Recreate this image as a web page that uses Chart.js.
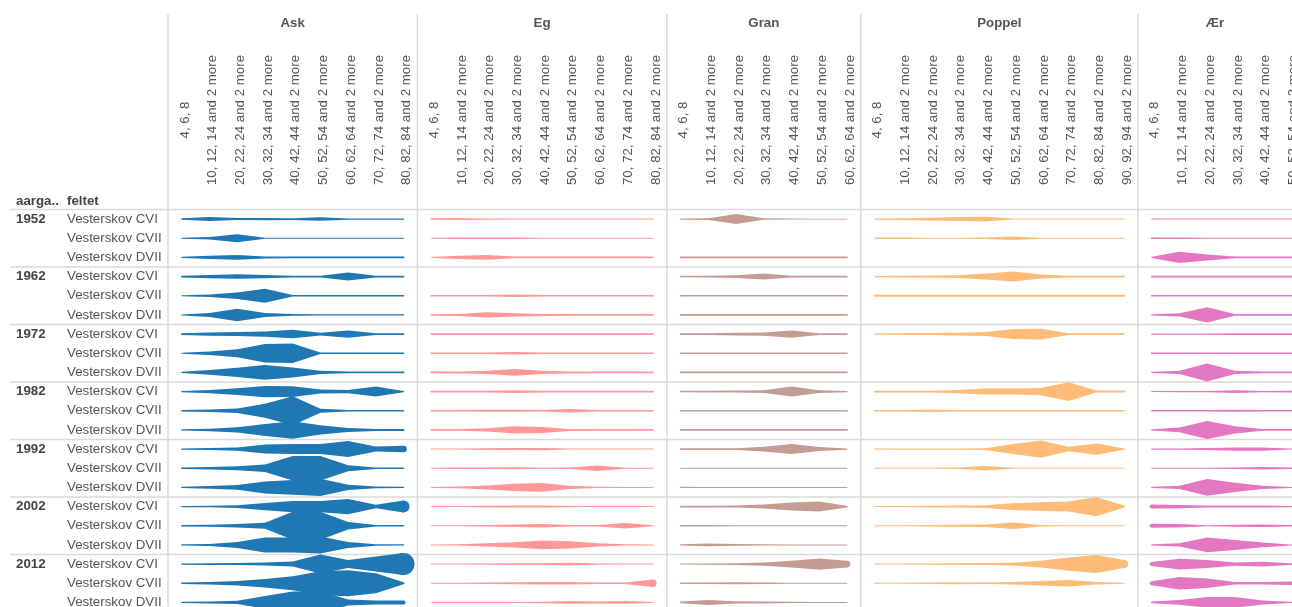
<!DOCTYPE html>
<html>
<head>
<meta charset="utf-8">
<script src="https://cdn.jsdelivr.net/npm/chart.js"></script>
<style>
  html, body { margin: 0; padding: 0; overflow: hidden; background: #fff; }
  canvas { display: block; }
</style>
</head>
<body>
<canvas id="violin" width="1292" height="612"></canvas>
<script>
/* --------------- Data --------------------- */
const years = ["1952", "1962", "1972", "1982", "1992", "2002", "2012"];
const felter = ["Vesterskov CVI", "Vesterskov CVII", "Vesterskov DVII"];
const arter = ["Ask", "Eg", "Gran", "Poppel", "Ær"];
const farver = ["#1f77b4", "#ff9896", "#c49c94", "#ffbb78", "#e377c2"];

const askKlasser = ["4, 6, 8", "10, 12, 14 and 2 more", "20, 22, 24 and 2 more", "30, 32, 34 and 2 more", "40, 42, 44 and 2 more", "50, 52, 54 and 2 more", "60, 62, 64 and 2 more", "70, 72, 74 and 2 more", "80, 82, 84 and 2 more"];
const egKlasser = ["4, 6, 8", "10, 12, 14 and 2 more", "20, 22, 24 and 2 more", "30, 32, 34 and 2 more", "40, 42, 44 and 2 more", "50, 52, 54 and 2 more", "60, 62, 64 and 2 more", "70, 72, 74 and 2 more", "80, 82, 84 and 2 more"];
const granKlasser = ["4, 6, 8", "10, 12, 14 and 2 more", "20, 22, 24 and 2 more", "30, 32, 34 and 2 more", "40, 42, 44 and 2 more", "50, 52, 54 and 2 more", "60, 62, 64 and 2 more"];
const poppelKlasser = ["4, 6, 8", "10, 12, 14 and 2 more", "20, 22, 24 and 2 more", "30, 32, 34 and 2 more", "40, 42, 44 and 2 more", "50, 52, 54 and 2 more", "60, 62, 64 and 2 more", "70, 72, 74 and 2 more", "80, 82, 84 and 2 more", "90, 92, 94 and 2 more"];
const aerKlasser = ["4, 6, 8", "10, 12, 14 and 2 more", "20, 22, 24 and 2 more", "30, 32, 34 and 2 more", "40, 42, 44 and 2 more", "50, 52, 54 and 2 more", "60, 62, 64 and 2 more"];

// one row per aargang x felt (1952 CVI, 1952 CVII, 1952 DVII, 1962 CVI ...), null = no trees
const ask = [
  [1.5, 4, 2, 2.3, 1.7, 3.5, 1.2, 1.2, 1.2],
  [1, 2.3, 8, 1.2, 1.2, 1.2, 1.2, 1.2, 1.2],
  [1.3, 3.3, 4.7, 2, 1.7, 1.7, 1.7, 1.7, 1.7],
  [1.7, 3.3, 4.5, 3.3, 1.7, 1.7, 8, 1.7, 1.7],
  [1, 2.7, 6.7, 14, 1.3, 1.3, 1.3, 1.3, 1.3],
  [1, 4, 12.5, 4, 1.7, 1.3, 1.3, 1.3, 1.3],
  [1.7, 3.3, 4, 5.3, 8.5, 2.7, 7.3, 1.7, 1.7],
  [1, 3.3, 8, 18.5, 19.5, 1.3, 1.3, 1.3, 1.3],
  [1.3, 4.7, 9.3, 14.7, 10, 3.3, 1.7, 1.7, 1.7],
  [1.3, 3.3, 6.7, 11.3, 10.7, 4, 3.3, 10, 1.3],
  [1.3, 2.7, 4.7, 14, 29, 4, 1.3, 1.3, 1.3],
  [1.3, 2.5, 5.3, 12, 17.5, 9.3, 4, 2, 2],
  [1.3, 2, 3.3, 9, 10, 10, 16, 5, 6.5],
  [1.3, 2.7, 4, 7.3, 24.5, 24.5, 6, 1.7, 1.3],
  [1.3, 2.7, 4.7, 12, 14.7, 17.3, 5.3, 1.7, 1.3],
  [1.3, 1.5, 2.7, 7.3, 11.3, 11.3, 15.3, 3.5, 12],
  [1.3, 2, 3.3, 6, 28, 28, 7.3, 1.5, 1.3],
  [1.3, 2, 6, 15, 15, 17, 6, 1.5, 1.3],
  [1.3, 1.7, 2, 3, 5, 19, 8, 15, 22],
  [1.3, 2.7, 4.7, 8.7, 14, 24, 26, 20, 2],
  [1.3, 2, 3.3, 12.7, 22, 22, 6, 4, 4]
];
const eg = [
  [1.5, 1.7, 1.2, 1, 1, 1, 1, 1, 1],
  [1, 1.5, 1.7, 1.3, 1, 1, 1, 1, 1],
  [1, 3.3, 4.7, 1.7, 1.7, 1.7, 1.7, 1.7, 1.7],
  null,
  [1.7, 1.7, 1.7, 2.3, 1.7, 1.7, 1.7, 1.7, 1.7],
  [1.5, 2, 5.3, 3.3, 2, 1.7, 1.7, 1.7, 1.7],
  [1.7, 1.7, 1.7, 1.7, 1.7, 1.7, 1.7, 1.7, 1.7],
  [1.7, 1.7, 1.7, 2.5, 1.7, 1.7, 1.7, 1.7, 1.7],
  [1.7, 2, 3.3, 6.7, 3.3, 2, 1.7, 1.7, 1.7],
  [1.7, 1.7, 1.7, 2.7, 1.7, 1.7, 1.7, 1.7, 1.7],
  [1.7, 1.7, 2, 2, 1.7, 3.3, 1.7, 1.7, 1.7],
  [1.7, 1.7, 3.3, 7.3, 6, 2, 1.7, 1.7, 1.7],
  [1, 1, 1.7, 2, 2.3, 1, 1, 1, 1],
  [1, 1.3, 1.7, 2, 1.2, 1.5, 5.3, 1.2, 1],
  [1, 1.7, 4, 7.3, 8.7, 3.3, 1.3, 1, 1],
  [1, 1, 1.7, 2, 2, 1.3, 1, 1, 1],
  [1, 1, 1.7, 2.3, 3.5, 1.5, 1.3, 5.5, 1],
  [1, 1.3, 3.3, 5.3, 8.7, 7.3, 3.3, 1.3, 1],
  [1, 1, 1.3, 1.7, 1.7, 2.7, 1.3, 1, 1],
  [1, 1, 1.7, 2, 2.7, 2.7, 1.3, 1.7, 7.3],
  [1, 1, 1, 1, 1.5, 2.7, 2, 2.7, 1]
];
const gran = [
  [1.3, 1.7, 10, 1.5, 1, 0.8, 0.8],
  null,
  [1.7, 1.7, 1.7, 1.7, 1.7, 1.7, 1.7],
  [1.5, 1.7, 2.7, 6, 1.7, 1.7, 1.7],
  [1.7, 1.7, 1.7, 1.7, 1.7, 1.7, 1.7],
  [1.7, 1.7, 1.7, 1.7, 1.7, 1.7, 1.7],
  [1.7, 1.7, 2.7, 3.3, 7.3, 1.7, 1.7],
  [1.7, 1.7, 1.7, 1.7, 1.7, 1.7, 1.7],
  [1.7, 1.7, 1.7, 1.7, 1.7, 1.7, 1.7],
  [1.5, 1.7, 2, 2.7, 10, 2.7, 1.3],
  [1.7, 1.7, 1.7, 1.7, 1.7, 1.7, 1.7],
  [1.7, 1.7, 1.7, 1.7, 1.7, 1.7, 1.7],
  [1.7, 1.7, 1.7, 4.7, 10, 4, 1.3],
  [1, 1, 1, 1, 1, 1, 1],
  [1.3, 1, 1, 1, 1, 1, 1],
  [1.7, 1.7, 2, 4, 8, 10, 1.7],
  [1.3, 1.3, 1, 1, 1, 1, 1],
  [1.3, 2.7, 1.7, 1.3, 1, 1, 1],
  [1, 1.3, 1.7, 3.3, 6.7, 11.3, 6.7],
  [1.3, 1.7, 2, 1.7, 1, 1, 1],
  [1.7, 5, 2.3, 2, 1.3, 1, 1]
];
const poppel = [
  [1.3, 1.7, 2.7, 4, 4.7, 1, 1, 1, 1, 1],
  [1.3, 1.3, 1, 1, 1.3, 3.3, 1, 1, 1, 1],
  null,
  [1.3, 1.7, 2, 2.7, 6, 10, 4, 1.7, 1.7, 1.7],
  [2, 2, 2, 2, 2, 2, 2, 2, 2, 2],
  null,
  [1.3, 1.7, 2, 2.7, 4, 10, 10.7, 1.7, 1.7, 1.7],
  null,
  null,
  [1.7, 1.7, 1.7, 3.3, 6, 6, 7.3, 18.7, 2, 2],
  [1.7, 1.7, 2.3, 1.7, 1.7, 1.7, 1.7, 1.7, 1.7, 1.7],
  null,
  [1, 1.3, 1.3, 1.3, 1.7, 10, 17.3, 4.5, 11.3, 1.3],
  [1, 1, 1, 1.7, 4.7, 1, 1, 1, 1, 1],
  null,
  [1, 1, 1.7, 2, 2.7, 6.7, 8.7, 10, 19.3, 2],
  [1, 1, 1.7, 2, 2.7, 6.7, 1.5, 1, 1, 1],
  null,
  [1, 1, 1.3, 1.7, 2, 2.7, 6.7, 13.3, 18, 8],
  [1, 1, 1.3, 2, 1.7, 2.7, 4.7, 6.7, 2.5, 1],
  null
];
const aer = [
  [1, 1, 1, 1, 1, 1, 1],
  [1.7, 1.7, 1, 1, 1, 1, 1],
  [1.3, 11.3, 6, 1.7, 1.7, 1.7, 1.7],
  [1.7, 1.7, 1.7, 1.7, 1.7, 1.7, 1.7],
  [1.7, 1.7, 1.7, 1.7, 1.7, 1.7, 1.7],
  [1.3, 3.3, 15.3, 1.7, 1.7, 1.7, 1.7],
  [1.3, 1.3, 1.3, 1.7, 1.7, 1.7, 1.7],
  [1.7, 1.7, 1.7, 1.7, 1.7, 1.7, 1.7],
  [1.3, 3.3, 18, 3.3, 1.7, 1.7, 1.7],
  [1, 1.3, 1.3, 2.7, 1.3, 1.7, 1.7],
  [1.3, 1.7, 1.7, 2, 1.7, 1.7, 1.7],
  [1.3, 4.7, 18, 7.3, 1.7, 1.7, 1.7],
  [1.3, 1.3, 2, 3.3, 3.3, 1, 1],
  [1, 1, 1, 1.3, 2.7, 1.3, 1.3],
  [1.3, 3.3, 16.7, 9.3, 3.3, 1, 1],
  [4, 3.3, 2, 2, 2, 1.3, 1.3],
  [4, 3.3, 1, 2, 2.7, 1.3, 1.3],
  [1.3, 3.3, 14.7, 10, 4.7, 1, 1],
  [4, 10.7, 8, 3.3, 4.7, 1.7, 1.7],
  [4, 12.7, 9.3, 2.7, 2.7, 3.3, 3],
  [1.7, 4.7, 10.7, 10.7, 4, 1.3, 1.3]
];

const klasser = [askKlasser, egKlasser, granKlasser, poppelKlasser, aerKlasser];
const serier = [ask, eg, gran, poppel, aer];

/* --------------- Layout --------------------- */
const ROW_PX = 19.17;          // row height in the picture
const HALF = 0.5 / ROW_PX;     // size value -> half height in row units
const FONT = "'Liberation Sans', Arial, sans-serif";

// start of each species column on the x axis (one unit per class)
const starts = [];
let pos = 0;
klasser.forEach(k => { starts.push(pos); pos += k.length; });

/* --------------- Datasets --------------------- */
const datasets = [];
serier.forEach((serie, a) => {
  serie.forEach((vals, r) => {
    if (!vals) return;
    const mid = r + 0.5;
    const xAt = i => starts[a] + i + 0.5;
    datasets.push({
      data: vals.map((v, i) => ({ x: xAt(i), y: mid - v * HALF })),
      backgroundColor: farver[a],
      fill: "+1",
      borderWidth: 0,
      pointRadius: 0,
    });
    datasets.push({
      data: vals.map((v, i) => ({ x: xAt(i), y: mid + v * HALF })),
      fill: false,
      borderWidth: 0,
      pointRadius: 0,
    });
    // round caps at both ends of the line
    const ends = [0, vals.length - 1];
    datasets.push({
      data: ends.map(i => ({ x: xAt(i), y: mid, v: vals[i] })),
      showLine: false,
      pointBackgroundColor: farver[a],
      pointBorderWidth: 0,
      pointRadius: ctx => {
        const ys = ctx.chart.scales.y;
        const v = ctx.raw ? ctx.raw.v : 0;
        return Math.abs(ys.getPixelForValue(v * HALF) - ys.getPixelForValue(0));
      },
    });
  });
});

/* --------------- Headers and frame --------------------- */
const frame = {
  id: "frame",
  beforeDatasetsDraw(chart) {
    const { ctx, width, height } = chart;
    const { x, y } = chart.scales;
    ctx.save();
    ctx.strokeStyle = "#dadada";
    ctx.lineWidth = 1.5;
    ctx.beginPath();
    starts.forEach(s => {
      const px = x.getPixelForValue(s);
      ctx.moveTo(px, 14);
      ctx.lineTo(px, height);
    });
    for (let r = 0; r < years.length * felter.length; r += felter.length) {
      const py = y.getPixelForValue(r);
      ctx.moveTo(10, py);
      ctx.lineTo(width, py);
    }
    ctx.stroke();
    ctx.restore();
  },
  afterDraw(chart) {
    const { ctx, width } = chart;
    const { x, y } = chart.scales;
    ctx.save();
    ctx.textBaseline = "middle";

    // species names
    ctx.font = "bold 13.3px " + FONT;
    ctx.fillStyle = "#555";
    ctx.textAlign = "center";
    arter.forEach((navn, a) => {
      const left = x.getPixelForValue(starts[a]);
      const right = Math.min(width, x.getPixelForValue(starts[a] + klasser[a].length));
      ctx.fillText(navn, (left + right) / 2, 23);
    });

    // diameter classes, rotated
    ctx.font = "13.3px " + FONT;
    ctx.fillStyle = "#555";
    klasser.forEach((k, a) => {
      k.forEach((lbl, i) => {
        ctx.save();
        ctx.translate(x.getPixelForValue(starts[a] + i + 0.5) + 3, 120);
        ctx.rotate(-Math.PI / 2);
        ctx.fillText(lbl, 0, 0);
        ctx.restore();
      });
    });

    // row headers
    ctx.textAlign = "left";
    ctx.font = "bold 13.3px " + FONT;
    ctx.fillStyle = "#444";
    ctx.fillText("aarga..", 16, 201);
    ctx.fillText("feltet", 67, 201);
    years.forEach((yr, g) => {
      ctx.fillText(yr, 16, y.getPixelForValue(g * felter.length + 0.5));
    });
    ctx.font = "13.3px " + FONT;
    ctx.fillStyle = "#555";
    years.forEach((yr, g) => {
      felter.forEach((f, j) => {
        ctx.fillText(f, 67, y.getPixelForValue(g * felter.length + j + 0.5));
      });
    });
    ctx.restore();
  },
};

/* --------------- Chart --------------------- */
new Chart(document.getElementById("violin"), {
  type: "line",
  data: { datasets },
  plugins: [frame],
  options: {
    responsive: false,
    animation: false,
    events: [],
    layout: { padding: { left: 168, top: 209.5, right: 0, bottom: 0 } },
    elements: { line: { tension: 0 } },
    scales: {
      x: { type: "linear", min: 0, max: 40.56, display: false },
      y: { type: "linear", min: 0, max: 21, reverse: true, display: false },
    },
    plugins: {
      legend: { display: false },
      tooltip: { enabled: false },
    },
  },
});
</script>
</body>
</html>
